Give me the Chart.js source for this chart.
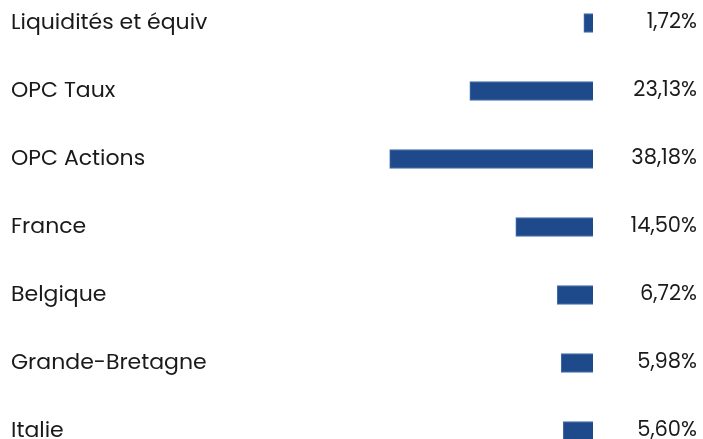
<!DOCTYPE html>
<html>
<head>
<meta charset="utf-8">
<script src="https://cdn.jsdelivr.net/npm/chart.js@4"></script>
<style>
  html, body { margin: 0; padding: 0; background: #fff; }
  #cadre { position: relative; width: 703px; height: 439px; overflow: hidden; }
  #zone { position: absolute; left: 0; top: -11px; width: 703px; height: 476px; }
</style>
</head>
<body>
<div id="cadre">
  <div id="zone"><canvas id="graphiqueRepartition"></canvas></div>
</div>
<script>
// Répartition du portefeuille
const categories = ['Liquidités et équiv', 'OPC Taux', 'OPC Actions', 'France', 'Belgique', 'Grande-Bretagne', 'Italie'];
const poids = [1.72, 23.13, 38.18, 14.50, 6.72, 5.98, 5.60];
const etiquettesPoids = ['1,72%', '23,13%', '38,18%', '14,50%', '6,72%', '5,98%', '5,60%'];

const couleurTexte = '#1a1a1a';

// pas de marge auto en haut/bas, les bandes font 68px
const sansMarge = (scale, largeur) => {
    scale.width = largeur;
    scale.paddingTop = 0;
    scale.paddingBottom = 0;
};

new Chart(document.getElementById('graphiqueRepartition'), {
    type: 'bar',
    data: {
        labels: categories,
        datasets: [{
            data: poids,
            backgroundColor: '#1e4a8b',
            borderColor: '#4670aa',
            borderWidth: 1,
            barThickness: 19
        }]
    },
    options: {
        indexAxis: 'y',
        responsive: true,
        maintainAspectRatio: false,
        animation: false,
        layout: { padding: { left: 11, right: 6, top: 0, bottom: 0 } },
        plugins: {
            legend: { display: false },
            tooltip: { enabled: false }
        },
        scales: {
            x: {
                display: false,
                reverse: true,
                min: 0,
                max: 40
            },
            y: {
                position: 'left',
                grid: { display: false },
                border: { display: false },
                ticks: { crossAlign: 'far', color: couleurTexte, font: { family: 'Poppins, Inter, sans-serif', size: 22 }, padding: 0 },
                afterFit: (scale) => sansMarge(scale, 369)
            },
            y2: {
                type: 'category',
                position: 'right',
                labels: etiquettesPoids,
                offset: true,
                grid: { display: false },
                border: { display: false },
                ticks: { crossAlign: 'far', color: couleurTexte, font: { family: 'Poppins, Inter, sans-serif', size: 21 }, padding: 0 },
                afterFit: (scale) => sansMarge(scale, 104)
            }
        }
    }
});
</script>
</body>
</html>
